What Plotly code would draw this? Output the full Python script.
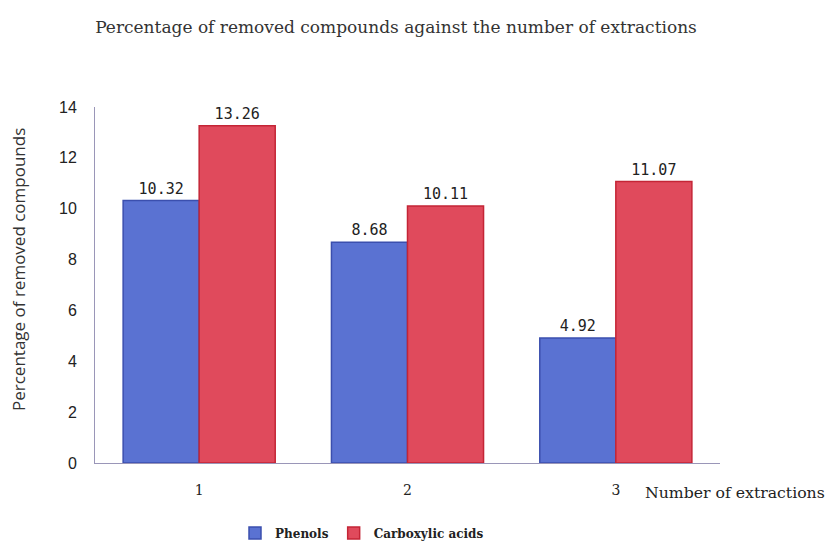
import plotly.graph_objects as go

categories = ["1", "2", "3"]
phenols = [10.32, 8.68, 4.92]
carboxylic = [13.26, 10.11, 11.07]
y_ticks = [0, 2, 4, 6, 8, 10, 12, 14]

W, H = 826, 543
L, R, T, B = 95, 106, 107, 80
PW, PH = W - L - R, H - T - B

fig = go.Figure()
fig.add_trace(go.Bar(
    x=categories, y=phenols, name="Phenols",
    marker=dict(color="#5a72d2", line=dict(color="#3b4fae", width=1.5)),
    text=[f"{v:.2f}" for v in phenols], textposition="outside",
    textfont=dict(family="DejaVu Sans Mono", size=15, color="#222"),
    cliponaxis=False,
))
fig.add_trace(go.Bar(
    x=categories, y=carboxylic, name="Carboxylic acids",
    marker=dict(color="#e04a5c", line=dict(color="#c42536", width=1.5)),
    text=[f"{v:.2f}" for v in carboxylic], textposition="outside",
    textfont=dict(family="DejaVu Sans Mono", size=15, color="#222"),
    cliponaxis=False,
))

fig.update_layout(
    width=W, height=H,
    margin=dict(l=L, r=R, t=T, b=B, autoexpand=False),
    paper_bgcolor="white", plot_bgcolor="white",
    barmode="group", bargap=0.27, bargroupgap=0,
    title=dict(text="Percentage of removed compounds against the number of extractions",
               font=dict(family="DejaVu Serif", size=17, color="#333"),
               x=396 / W, xanchor="center", xref="container",
               y=1 - 27 / H, yanchor="middle", yref="container"),
    legend=dict(orientation="h", xref="container", yref="container",
                x=362 / W, xanchor="center", y=1 - 533 / H, yanchor="middle",
                font=dict(family="DejaVu Serif", size=12, color="#222", weight="bold"),
                itemwidth=30, traceorder="normal"),
    showlegend=True,
)
fig.update_xaxes(
    showline=True, linecolor="#9a96b8", linewidth=1,
    ticks="", tickfont=dict(family="DejaVu Serif", size=14, color="#222"),
    ticklabelstandoff=14,
)
fig.update_yaxes(
    range=[0, 14], tickvals=y_ticks, showgrid=False, zeroline=False,
    showline=True, linecolor="#9a96b8", linewidth=1, ticks="",
    tickfont=dict(family="Liberation Sans Narrow, Liberation Sans", size=16, color="#222"),
    ticklabelstandoff=14,
)
fig.add_annotation(
    text="Percentage of removed compounds", xref="paper", yref="paper",
    x=(18 - L) / PW, y=1 - (270 - T) / PH, textangle=-90,
    xanchor="center", yanchor="middle", showarrow=False,
    font=dict(family="Open Sans", size=17, color="#333"),
)
fig.add_annotation(
    text="Number of extractions", xref="paper", yref="paper",
    x=(643 - L) / PW, y=-(492 - (H - B)) / PH,
    xanchor="left", yanchor="middle", showarrow=False,
    font=dict(family="DejaVu Serif", size=15.7, color="#222"),
)
fig.write_html("out.html", post_script="document.body.style.margin='0';",
               config={"displayModeBar": False})
